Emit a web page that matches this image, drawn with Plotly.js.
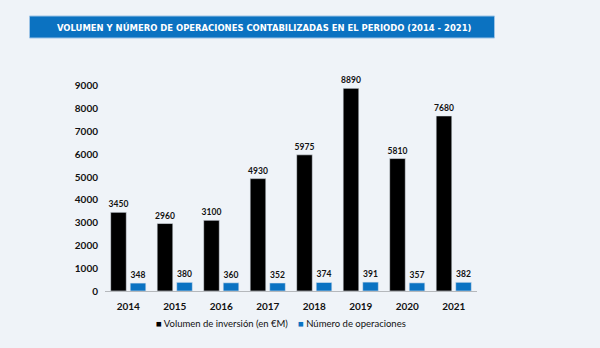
<!DOCTYPE html>
<html>
<head>
<meta charset="utf-8">
<script src="https://cdn.plot.ly/plotly-3.0.1.min.js"></script>
<style>
  html, body { margin: 0; padding: 0; background: #eff3f8; }
  #chart { width: 600px; height: 348px; }
</style>
</head>
<body>
<div id="chart"></div>
<script>
const years = ['2014', '2015', '2016', '2017', '2018', '2019', '2020', '2021'];
const volumen = [3450, 2960, 3100, 4930, 5975, 8890, 5810, 7680];
const operaciones = [348, 380, 360, 352, 374, 391, 357, 382];
const yTicks = [0, 1000, 2000, 3000, 4000, 5000, 6000, 7000, 8000, 9000];
const titleText = 'VOLUMEN Y NÚMERO DE OPERACIONES CONTABILIZADAS EN EL PERIODO (2014 - 2021)';
const seriesNames = ['Volumen de inversión (en €M)', 'Número de operaciones'];
const seriesColors = ['#000000', '#0a72c2'];

const W = 600, H = 348;
const L = 105, R = 123, T = 79, B = 57;
const pw = W - L - R, ph = H - T - B;
const px = x => (x - L) / pw;
const py = y => (H - B - y) / ph;

const valFont = { family: 'Lato, sans-serif', size: 8.5, color: '#111', weight: 'bold' };

const traces = [volumen, operaciones].map((vals, i) => ({
  type: 'bar', name: seriesNames[i], x: years, y: vals,
  marker: { color: seriesColors[i], line: { color: '#dfe6ee', width: 0.6 } },
  text: vals.map(String), textposition: 'outside', cliponaxis: false,
  constraintext: 'none', textfont: valFont, hoverinfo: 'none'
}));

const legendFont = { family: 'Lato, sans-serif', size: 9.5, color: '#111' };

const layout = {
  width: W, height: H,
  margin: { l: L, r: R, t: T, b: B, pad: 0 },
  paper_bgcolor: '#eff3f8', plot_bgcolor: '#eff3f8',
  barmode: 'group', bargap: 0.16, bargroupgap: 0.2,
  showlegend: false,
  xaxis: {
    type: 'category', showgrid: false, zeroline: false,
    showline: true, linecolor: '#b5b8bc', linewidth: 1,
    ticks: '', tickfont: { family: 'Lato, sans-serif', size: 10, color: '#111', weight: 'bold' },
    ticklabelstandoff: 6
  },
  yaxis: {
    range: [0, 9300], tickvals: yTicks, ticktext: yTicks.map(String),
    showgrid: false, zeroline: false, showline: false, ticks: '',
    tickfont: { family: 'Lato, sans-serif', size: 10, color: '#111', weight: 'bold' },
    ticklabelstandoff: 6
  },
  shapes: [{
    type: 'rect', xref: 'paper', yref: 'paper',
    x0: px(29.5), x1: px(494.5), y0: py(38), y1: py(16),
    fillcolor: '#0b72c1', line: { color: '#9cc3e6', width: 1 }, layer: 'above'
  }],
  annotations: [
    {
      xref: 'paper', yref: 'paper', x: px(264), y: py(27), xanchor: 'center', yanchor: 'middle',
      text: titleText, showarrow: false,
      font: { family: '"DejaVu Sans Condensed", Roboto, sans-serif', size: 9.4, color: '#ffffff', weight: 'bold' }
    },
    {
      xref: 'paper', yref: 'paper', x: px(154), y: py(323), xanchor: 'left', yanchor: 'middle',
      text: '<span style="color:' + seriesColors[0] + '">■</span> ' + seriesNames[0],
      showarrow: false, font: legendFont
    },
    {
      xref: 'paper', yref: 'paper', x: px(296), y: py(323), xanchor: 'left', yanchor: 'middle',
      text: '<span style="color:' + seriesColors[1] + '">■</span> ' + seriesNames[1],
      showarrow: false, font: legendFont
    }
  ]
};

Plotly.newPlot('chart', traces, layout, { staticPlot: true, displayModeBar: false });
</script>
</body>
</html>
